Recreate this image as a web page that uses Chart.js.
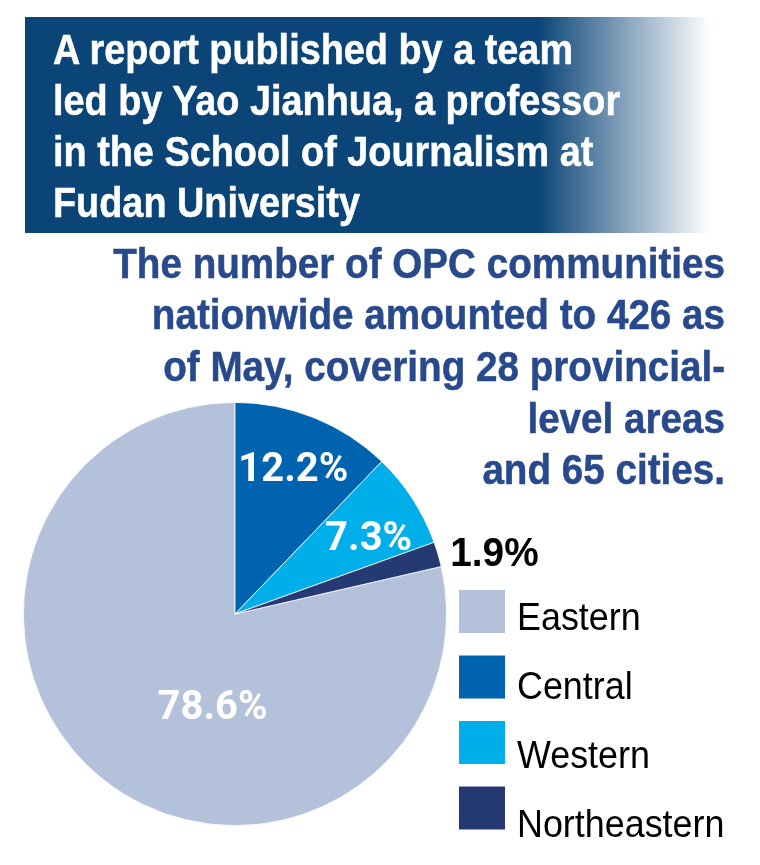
<!DOCTYPE html>
<html>
<head>
<meta charset="utf-8">
<title>OPC communities by region</title>
<script src="https://cdn.jsdelivr.net/npm/chart.js@4.4.1/dist/chart.umd.min.js"></script>
<style>
    html, body { margin: 0; padding: 0; background: #fff; }
    #page { position: relative; width: 760px; height: 865px; overflow: hidden; }
    #header {
        position: absolute; left: 25px; top: 17px; width: 685px; height: 216px;
        background: linear-gradient(to right, #0b4577 0%, #0b4577 75%, #ffffff 100%);
    }
    .title {
        position: absolute; left: 53px; top: 23.5px;
        font: bold 43px/51.3px "Liberation Sans", Arial, sans-serif;
        color: #fff;
        -webkit-text-stroke: 0.5px #fff;
    }
    .title div { white-space: nowrap; transform: scaleX(0.88); transform-origin: left center; }
    .subtitle {
        position: absolute; right: 35px; top: 237.6px; text-align: right;
        font: bold 42px/51.7px "Liberation Sans", Arial, sans-serif;
        color: #284a8c;
        -webkit-text-stroke: 0.5px #284a8c;
    }
    .subtitle div { white-space: nowrap; transform: scaleX(0.92); transform-origin: right center; }
    #pieChart { position: absolute; left: 0; top: 0; }
</style>
</head>
<body>
<div id="page">
    <div id="header"></div>
    <canvas id="pieChart" width="760" height="865"></canvas>
    <div class="title">
        <div>A report published by a team</div>
        <div>led by Yao Jianhua, a professor</div>
        <div>in the School of Journalism at</div>
        <div>Fudan University</div>
    </div>
    <div class="subtitle">
        <div>The number of OPC communities</div>
        <div>nationwide amounted to 426 as</div>
        <div>of May, covering 28 provincial-</div>
        <div>level areas</div>
        <div>and 65 cities.</div>
    </div>
</div>

<script>
// Data
const regions = ['Eastern', 'Central', 'Western', 'Northeastern'];
const shares = [78.6, 12.2, 7.3, 1.9];
const regionColors = ['#b3c2da', '#0063b0', '#00aee9', '#253a72'];

// Eastern comes first in the legend but its slice starts after the three small ones
const total = shares.reduce((a, b) => a + b, 0);
const startRotation = (total - shares[0]) / total * 360;

// ---------------------------------------------------------------------------
// percentage labels on / beside the slices
// ---------------------------------------------------------------------------
const sliceLabels = {
    id: 'sliceLabels',
    afterDatasetsDraw(chart, args, opts) {
        const ctx = chart.ctx;
        const meta = chart.getDatasetMeta(0);
        meta.data.forEach((arc, i) => {
            const p = opts.place[i];
            const angle = (arc.startAngle + arc.endAngle) / 2 + p.shift * Math.PI / 180;
            const r = arc.outerRadius * p.r;
            const x = arc.x + Math.cos(angle) * r;
            const y = arc.y + Math.sin(angle) * r;
            ctx.save();
            ctx.font = p.font;
            ctx.fillStyle = p.color;
            ctx.textAlign = 'center';
            ctx.textBaseline = 'alphabetic';
            ctx.translate(x, y + p.cap / 2);
            ctx.scale(p.sx, 1);
            ctx.fillText(shares[i].toFixed(1) + '%', 0, 0);
            ctx.restore();
        });
    }
};

// ---------------------------------------------------------------------------
// legend column on the right
// ---------------------------------------------------------------------------
const sideLegend = {
    id: 'sideLegend',
    afterDraw(chart, args, opts) {
        const ctx = chart.ctx;
        const colors = chart.data.datasets[0].backgroundColor;
        chart.data.labels.forEach((label, i) => {
            ctx.fillStyle = colors[i];
            ctx.fillRect(opts.x, opts.boxTop + i * opts.boxStep, opts.boxW, opts.boxH);
            ctx.save();
            ctx.font = opts.font;
            ctx.fillStyle = opts.color;
            ctx.textAlign = 'left';
            ctx.textBaseline = 'alphabetic';
            ctx.translate(opts.textX, opts.textBase + i * opts.textStep);
            ctx.scale(opts.sx, 1);
            ctx.fillText(label, 0, 0);
            ctx.restore();
        });
    }
};

const whiteLabel = { font: 'bold 40px Roboto, "Liberation Sans", sans-serif', color: '#ffffff', cap: 28.4, sx: 1 };

new Chart(document.getElementById('pieChart'), {
    type: 'pie',
    data: {
        labels: regions,
        datasets: [{
            data: shares,
            backgroundColor: regionColors,
            borderColor: '#ffffff',
            borderWidth: 0.8
        }]
    },
    options: {
        responsive: false,
        animation: false,
        events: [],
        rotation: startRotation,
        layout: { padding: { left: 23, right: 313, top: 402, bottom: 39 } },
        plugins: {
            legend: { display: false },
            tooltip: { enabled: false },
            sliceLabels: {
                place: [
                    Object.assign({ r: 0.442, shift: -24.6 }, whiteLabel),
                    Object.assign({ r: 0.75, shift: -0.4 }, whiteLabel),
                    Object.assign({ r: 0.731, shift: 2.7 }, whiteLabel),
                    { r: 1.261, shift: 2.9, font: 'bold 40px "Liberation Sans", Arial, sans-serif',
                      color: '#000000', cap: 28.6, sx: 0.97 }
                ]
            },
            sideLegend: {
                x: 459, boxW: 46, boxH: 43, boxTop: 590, boxStep: 65.5,
                textX: 517, textBase: 630, textStep: 69,
                font: '39px "Liberation Sans", Arial, sans-serif', color: '#000000', sx: 0.92
            }
        }
    },
    plugins: [sliceLabels, sideLegend]
});
</script>
</body>
</html>
